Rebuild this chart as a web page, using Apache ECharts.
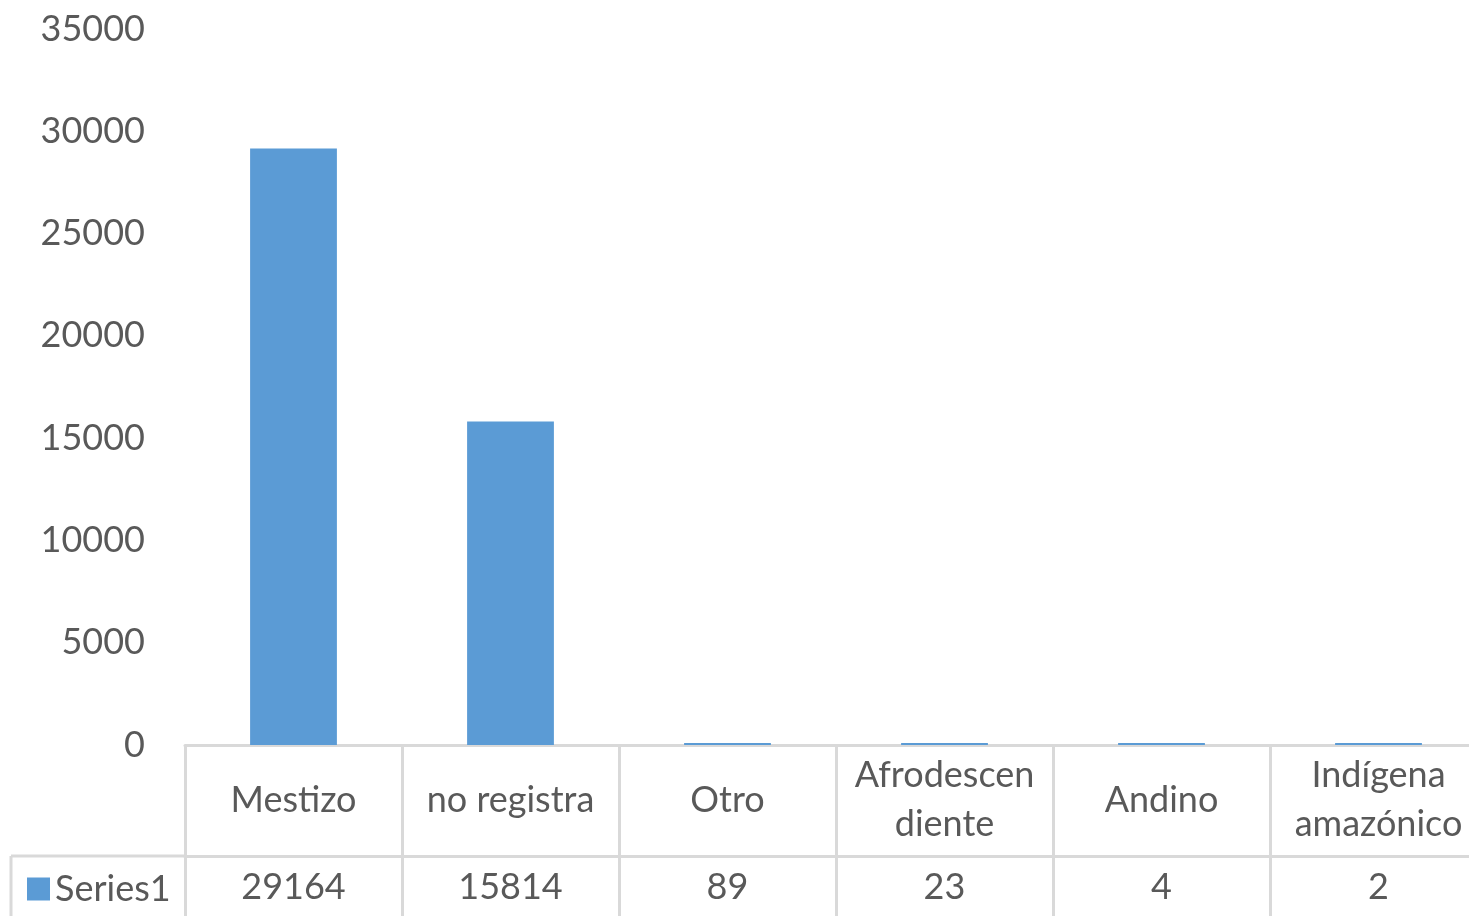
<!DOCTYPE html>
<html>
<head>
<meta charset="utf-8">
<script src="https://cdn.jsdelivr.net/npm/echarts@6/dist/echarts.min.js"></script>
<style>
  html, body { margin: 0; padding: 0; background: #fff; overflow: hidden; }
  #main { width: 1487px; height: 916px; }
</style>
</head>
<body>
<div id="main"></div>
<script>
const categories = ['Mestizo', 'no registra', 'Otro', 'Afrodescen\ndiente', 'Andino', 'Indígena\namazónico'];
const values = [29164, 15814, 89, 23, 4, 2];
const seriesName = 'Series1';

const chart = echarts.init(document.getElementById('main'));

const textColor = '#595959';
const lineColor = '#d9d9d9';
const font = 'Lato, "Open Sans", sans-serif';
const fontSize = 36;

const options = {
  animation: false,
  textStyle: { fontFamily: font },
  grid: { left: 185, top: 29, right: 0, height: 716 },
  legend: {
    data: [seriesName],
    left: 22, top: 866,
    icon: 'rect', itemWidth: 23, itemHeight: 23, itemGap: 8,
    textStyle: { fontSize: fontSize, color: textColor, fontFamily: font }
  },
  xAxis: [
    {
      type: 'category',
      data: categories,
      axisLine: { lineStyle: { color: lineColor, width: 3 } },
      axisTick: { show: true, length: 171, lineStyle: { color: lineColor, width: 3 } },
      axisLabel: {
        color: textColor, fontSize: fontSize, fontFamily: font,
        lineHeight: 49, verticalAlign: 'middle', margin: 55, interval: 0
      }
    },
    {
      type: 'category',
      data: categories,
      position: 'bottom',
      offset: 111,
      axisLine: { lineStyle: { color: lineColor, width: 3 } },
      axisTick: { show: false },
      axisLabel: {
        color: textColor, fontSize: fontSize, fontFamily: font,
        verticalAlign: 'middle', margin: 31, interval: 0,
        formatter: (v, i) => String(values[i])
      }
    }
  ],
  yAxis: {
    type: 'value',
    min: 0, max: 35000, interval: 5000,
    axisLine: { show: false },
    axisTick: { show: false },
    splitLine: { show: false },
    axisLabel: {
      color: textColor, fontSize: fontSize, fontFamily: font, margin: 40,
      formatter: v => String(v)
    }
  },
  graphic: [
    { type: 'line', shape: { x1: 11, y1: 856, x2: 185, y2: 856 }, style: { stroke: lineColor, lineWidth: 3 } },
    { type: 'line', shape: { x1: 11, y1: 856, x2: 11, y2: 916 }, style: { stroke: lineColor, lineWidth: 3 } }
  ],
  series: [{
    name: seriesName,
    type: 'bar',
    data: values,
    barWidth: '40%',
    barMinHeight: 2,
    itemStyle: { color: '#5B9BD5' }
  }]
};

chart.setOption(options);
</script>
</body>
</html>
